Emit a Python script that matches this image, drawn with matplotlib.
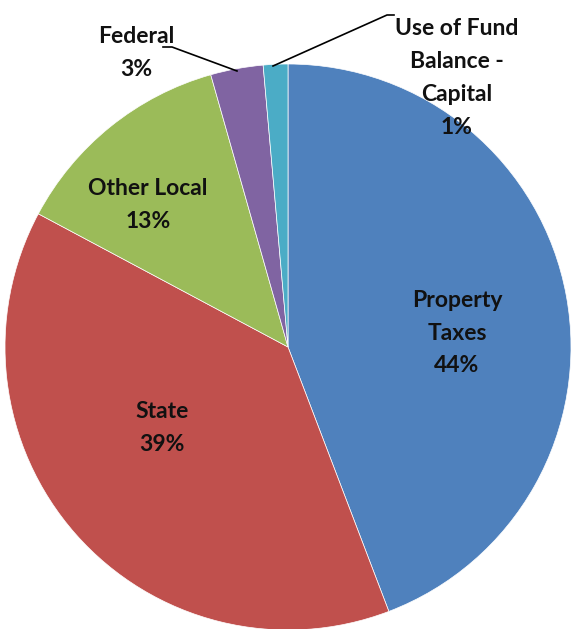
import matplotlib.pyplot as plt

# revenue sources, clockwise from 12 o'clock
names = ['Property\nTaxes', 'State', 'Other Local', 'Federal',
         'Use of Fund\nBalance -\nCapital']
shares = [44.2, 38.6, 12.8, 3.0, 1.4]
colors = ['#4F81BD', '#C0504D', '#9BBB59', '#8064A2', '#4BACC6']

W, H = 571, 629
cx, cy, rad = 288, H - 347, 283

fig = plt.figure(figsize=(W/100., H/100.), dpi=100)
ax = fig.add_axes([0, 0, 1, 1])

ax.pie(shares, colors=colors, startangle=90, counterclock=False,
       center=(cx, cy), radius=rad, frame=True,
       wedgeprops=dict(edgecolor='white', linewidth=0.5))
ax.set_xlim(0, W)
ax.set_ylim(0, H)
ax.axis('off')

tot = sum(shares)
pct = ['%.0f%%' % (s/tot*100.) for s in shares]

# label anchors in pixel coords (x, y from top)
lab_xy = [(457, 333), (162, 428), (148, 205), (136, 53), (457, 78)]
for name, p, (x, y) in zip(names, pct, lab_xy):
    ax.text(x, H - y, name + '\n' + p, ha='center', va='center',
            fontsize=16.5, fontweight='bold', family='Lato',
            color='#111111', linespacing=1.7)

# leader lines for the two small slices
ax.plot([163, 172, 237], [H-47, H-47, H-71], color='black', lw=1.2)
ax.plot([394, 387, 273], [H-15, H-15, H-66], color='black', lw=1.2)

fig.savefig('out.png', dpi=100)
plt.close()
